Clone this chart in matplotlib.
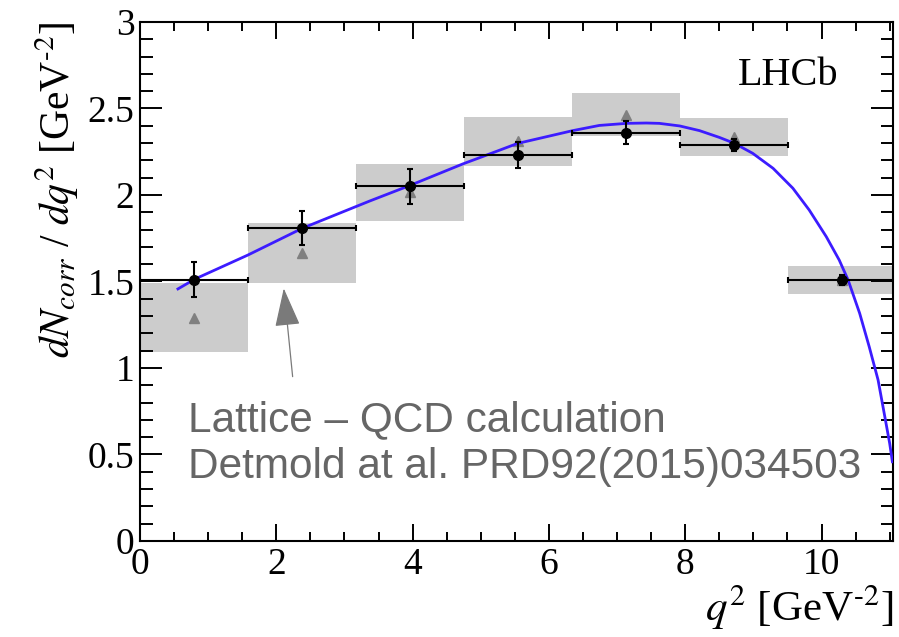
import numpy as np
import matplotlib
matplotlib.use("Agg")
import matplotlib.pyplot as plt
from matplotlib.patches import Rectangle
from matplotlib.ticker import MultipleLocator, FuncFormatter

plt.rcParams["font.family"] = ["Liberation Serif", "DejaVu Serif"]
plt.rcParams["mathtext.fontset"] = "stix"

# q2 bins [GeV^2]
bin_edges = [0.0, 1.586, 3.171, 4.757, 6.343, 7.929, 9.514, 11.1]

# measured corrected yield per bin
data_y = [1.51, 1.81, 2.05, 2.23, 2.36, 2.29, 1.51]
data_err = [0.10, 0.10, 0.10, 0.075, 0.065, 0.035, 0.03]

# lattice QCD prediction (central value, half-band)
lqcd_y = [1.29, 1.665, 2.015, 2.31, 2.465, 2.335, 1.51]
lqcd_err = [0.20, 0.175, 0.165, 0.14, 0.125, 0.11, 0.08]

# fitted shape
fit_x = [0.557, 0.806, 1.584, 2.39, 2.93, 3.37, 3.96, 4.74, 4.98, 5.54,
         6.35, 6.74, 7.14, 7.43, 7.62, 7.92, 8.21, 8.50, 8.72, 8.99, 9.29,
         9.58, 9.82, 10.07, 10.26, 10.39, 10.56, 10.70, 10.83, 10.92, 11.0,
         11.04]
fit_y = [1.457, 1.514, 1.653, 1.809, 1.895, 1.965, 2.055, 2.18, 2.215, 2.298,
         2.372, 2.402, 2.414, 2.416, 2.414, 2.399, 2.372, 2.333, 2.299, 2.241,
         2.154, 2.039, 1.913, 1.759, 1.624, 1.509, 1.316, 1.123, 0.931, 0.738,
         0.565, 0.458]

edges = np.array(bin_edges)
centers = 0.5 * (edges[:-1] + edges[1:])
half_w = 0.5 * (edges[1:] - edges[:-1])

fig = plt.figure(figsize=(8.99, 6.37), dpi=100)
ax = fig.add_axes([0.1557, 0.1507, 0.8377, 0.8148])

# lattice bands + triangles
for lo, hi, y, e in zip(edges[:-1], edges[1:], lqcd_y, lqcd_err):
    ax.add_patch(Rectangle((lo, y - e), hi - lo, 2 * e, fc="#cccccc", ec="none", zorder=1))
ax.plot(centers, lqcd_y, ls="none", marker="^", ms=7, color="#808080", zorder=2)

ax.plot(fit_x, fit_y, color="#3c1cff", lw=2.0, zorder=3)

ax.errorbar(centers, data_y, xerr=half_w, yerr=data_err, fmt="o", ms=7,
            color="black", ecolor="black", elinewidth=1.5, capsize=2.5,
            capthick=1.5, zorder=4)

ax.set_xlim(0, 11.05)
ax.set_ylim(0, 3)
ax.xaxis.set_major_locator(MultipleLocator(2))
ax.xaxis.set_minor_locator(MultipleLocator(0.5))
ax.yaxis.set_major_locator(MultipleLocator(0.5))
ax.yaxis.set_minor_locator(MultipleLocator(0.1))
ax.yaxis.set_major_formatter(FuncFormatter(lambda v, p: f"{v:g}"))
ax.tick_params(which="both", direction="in", top=True, right=True, width=1.4,
               labelsize=27)
ax.tick_params(axis="x", which="major", length=12, pad=5)
ax.tick_params(axis="x", which="minor", length=6.5)
ax.tick_params(axis="y", which="major", length=16, pad=4)
ax.tick_params(axis="y", which="minor", length=9)
for s in ax.spines.values():
    s.set_linewidth(1.5)

ax.set_xlabel("$q^2$ [GeV$^{\u20102}$]", fontsize=31, loc="right", labelpad=0)
ax.set_ylabel("$dN_{corr}$ / $dq^2$ [GeV$^{\u20102}$]", fontsize=30,
              loc="top", labelpad=5)

ax.text(8.78, 2.69, "LHCb", fontsize=29, va="center", ha="left")

ax.annotate("", xy=(2.11, 1.46), xytext=(2.24, 0.95),
            arrowprops=dict(arrowstyle="-|>,head_length=1.22,head_width=0.4",
                            mutation_scale=20, lw=0.9, color="#7a7a7a",
                            shrinkA=0, shrinkB=0))
ax.text(0.70, 0.70, "Lattice \u2013 QCD calculation", fontsize=30.5,
        color="#666666", family=["Liberation Sans", "DejaVu Sans"], va="center")
ax.text(0.70, 0.43, "Detmold at al. PRD92(2015)034503", fontsize=30.5,
        color="#666666", family=["Liberation Sans", "DejaVu Sans"], va="center")

fig.savefig("out.png", dpi=100)
